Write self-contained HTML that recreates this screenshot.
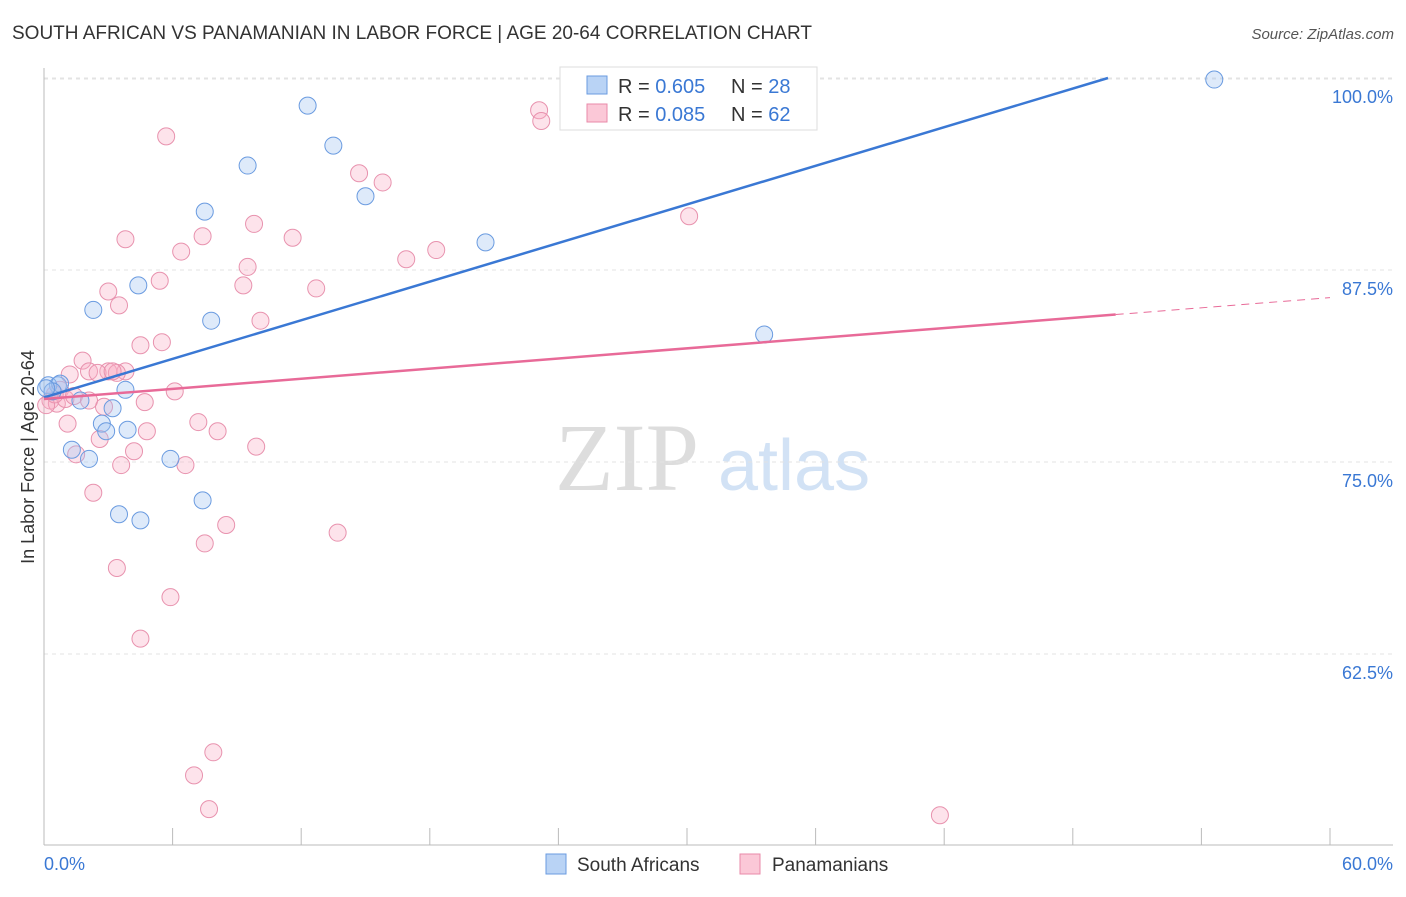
<!DOCTYPE html>
<html><head><meta charset="utf-8"><style>
body{margin:0;background:#fff;font-family:"Liberation Sans",sans-serif}
</style></head><body>
<svg id="c" width="1406" height="892" viewBox="0 0 1406 892" xmlns="http://www.w3.org/2000/svg">
<text x="12" y="39" font-size="19" fill="#333">SOUTH AFRICAN VS PANAMANIAN IN LABOR FORCE | AGE 20-64 CORRELATION CHART</text>
<text x="1394" y="39" font-size="15" fill="#555" font-style="italic" text-anchor="end">Source: ZipAtlas.com</text>
<g><text x="555" y="490" font-size="96" fill="#ddd" font-family="Liberation Serif,serif">ZIP</text><text x="718" y="490" font-size="72" fill="#c8dcf3" opacity="0.8">atlas</text></g>
<g id="grid"></g><g id="axes"></g><g id="marks"></g>
<text transform="translate(34,457) rotate(-90)" font-size="18" fill="#333" text-anchor="middle">In Labor Force | Age 20-64</text>
<g>
<rect x="560" y="67" width="257" height="63" fill="#fff" stroke="#ddd"/>
<rect x="587" y="76" width="20" height="18" fill="#b9d3f5" stroke="#6a9be0"/>
<rect x="587" y="104" width="20" height="18" fill="#fbc8d7" stroke="#e88aa8"/>
<text x="618" y="93" font-size="20" fill="#333">R = <tspan fill="#3a78d4">0.605</tspan></text>
<text x="731" y="93" font-size="20" fill="#333">N = <tspan fill="#3a78d4">28</tspan></text>
<text x="618" y="121" font-size="20" fill="#333">R = <tspan fill="#3a78d4">0.085</tspan></text>
<text x="731" y="121" font-size="20" fill="#333">N = <tspan fill="#3a78d4">62</tspan></text>
</g>
<g>
<rect x="546" y="854" width="20" height="20" fill="#b9d3f5" stroke="#6a9be0"/>
<text x="577" y="871" font-size="19" fill="#333">South Africans</text>
<rect x="740" y="854" width="20" height="20" fill="#fbc8d7" stroke="#e88aa8"/>
<text x="772" y="871" font-size="19" fill="#333">Panamanians</text>
</g>
</svg>
<script>
const yTicks=[100,87.5,75,62.5];
const yTickLabels=["100.0%","87.5%","75.0%","62.5%"];
const xTickLabels=["0.0%","60.0%"];
const blueX=[54.6,12.3,13.5,9.5,15.0,7.5,20.6,4.4,2.3,7.8,33.6,0.65,0.2,3.8,1.7,3.2,2.7,3.9,2.9,1.3,2.1,5.9,7.4,3.5,4.5,0.75,0.4,0.1];
const blueY=[99.9,98.2,95.6,94.3,92.3,91.3,89.3,86.5,84.9,84.2,83.3,80.0,80.0,79.7,79.0,78.5,77.5,77.1,77.0,75.8,75.2,75.2,72.5,71.6,71.2,80.1,79.6,79.8];
const pinkX=[23.1,23.2,5.7,14.7,15.8,30.1,9.8,3.8,7.4,11.6,6.4,18.3,16.9,9.5,5.4,9.3,12.7,3.0,3.5,10.1,5.5,4.5,1.8,1.2,2.1,3.0,3.8,3.4,2.5,6.1,4.7,2.8,0.75,0.3,0.6,1.0,1.4,1.1,7.2,4.8,8.1,2.6,4.2,9.9,1.5,3.6,6.6,2.3,8.5,13.7,7.5,3.4,5.9,4.5,7.9,7.0,7.7,41.8,0.1,2.1,0.5,3.2];
const pinkY=[97.9,97.2,96.2,93.8,93.2,91.0,90.5,89.5,89.7,89.6,88.7,88.8,88.2,87.7,86.8,86.5,86.3,86.1,85.2,84.2,82.8,82.6,81.6,80.7,80.9,80.9,80.9,80.8,80.8,79.6,78.9,78.6,79.7,79.0,78.8,79.1,79.3,77.5,77.6,77.0,77.0,76.5,75.7,76.0,75.5,74.8,74.8,73.0,70.9,70.4,69.7,68.1,66.2,63.5,56.1,54.6,52.4,52.0,78.7,79.0,79.4,80.9];
const blueTrend=[79.2,0.419];
const pinkTrend=[79.1,0.11];
const NS="http://www.w3.org/2000/svg";
const X=v=>44+v*1286/60, Y=v=>78+(100-v)*192/12.5;
function mk(t,a,p){const e=document.createElementNS(NS,t);for(const k in a)e.setAttribute(k,a[k]);p.appendChild(e);return e;}
const grid=document.getElementById('grid'),axes=document.getElementById('axes'),marks=document.getElementById('marks');
yTicks.forEach((t,i)=>{
 const l=mk('line',{x1:44,x2:1393,y1:Y(t),y2:Y(t),stroke:'#e3e3e3','stroke-dasharray':'4,4'},grid);
 
 
 const tx=mk('text',{x:1393,y:Y(t)+25,'font-size':18,fill:'#3a78d4','text-anchor':'end'},axes);tx.textContent=yTickLabels[i];
 
 
});
mk('line',{x1:44,x2:1393,y1:79,y2:79,stroke:'#e3e3e3','stroke-dasharray':'4,4'},grid);
mk('line',{x1:44,x2:44,y1:68,y2:845,stroke:'#bbb'},axes);
mk('line',{x1:44,x2:1393,y1:845,y2:845,stroke:'#bbb'},axes);
for(let i=0;i<=10;i++){const x=X(i*6);mk('line',{x1:x,x2:x,y1:828,y2:845,stroke:'#bbb'},axes);}
[[0,'start',44],[1,'end',1393]].forEach(([i,a,x])=>{const t=mk('text',{x:x,y:870,'font-size':18,fill:'#3a78d4','text-anchor':a},axes);t.textContent=xTickLabels[i];
 
 });
function pts(xs,ys,f,s,n){xs.forEach((x,i)=>{const c=mk('circle',{cx:X(x),cy:Y(ys[i]),r:8.5,fill:f,stroke:s,'stroke-width':1},marks);
 
 });}
pts(pinkX,pinkY,'rgba(248,175,198,0.35)','#e892ae','panamanian-point');
pts(blueX,blueY,'rgba(160,195,240,0.35)','#6a9be0','south-african-point');
const bEnd=(100-blueTrend[0])/blueTrend[1];
const bl=mk('line',{x1:X(0),y1:Y(blueTrend[0]),x2:X(bEnd),y2:Y(100),stroke:'#3a78d4','stroke-width':2.5},marks);


const pe=50;
const pl=mk('line',{x1:X(0),y1:Y(pinkTrend[0]),x2:X(pe),y2:Y(pinkTrend[0]+pinkTrend[1]*pe),stroke:'#e86a98','stroke-width':2.5},marks);


const pd=mk('line',{x1:X(pe),y1:Y(pinkTrend[0]+pinkTrend[1]*pe),x2:X(60),y2:Y(pinkTrend[0]+pinkTrend[1]*60),stroke:'#e86a98','stroke-width':1,'stroke-dasharray':'8,6'},marks);


</script>
</body></html>
